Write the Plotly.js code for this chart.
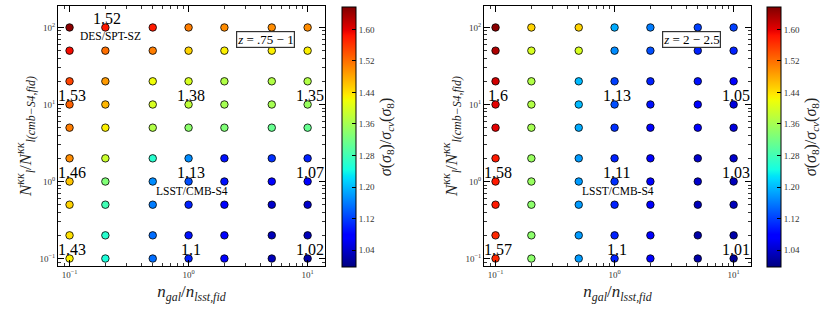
<!DOCTYPE html>
<html>
<head>
<meta charset="utf-8">
<script src="https://cdn.plot.ly/plotly-3.0.1.min.js"></script>
<style>html,body{margin:0;padding:0;background:#fff;}#chart{width:830px;height:312px;}</style>
</head>
<body>
<div id="chart"></div>
<script>
// ---------------- data ----------------
var nGal = [0.1, 0.2, 0.5, 1, 2, 5, 10];            // n_gal / n_lsst,fid
var nKK  = [100, 50, 20, 10, 5, 2, 1, 0.5, 0.2, 0.1]; // N_l^kk / N_l(cmb-S4,fid)^kk

// sigma(sigma8)/sigma_cv(sigma8), rows follow nKK, columns follow nGal
var ratioZ075 = [
  [1.65, 1.58, 1.58, 1.51, 1.50, 1.50, 1.50],
  [1.59, 1.52, 1.51, 1.45, 1.43, 1.43, 1.43],
  [1.55, 1.49, 1.42, 1.40, 1.37, 1.37, 1.37],
  [1.53, 1.47, 1.40, 1.38, 1.36, 1.36, 1.35],
  [1.51, 1.43, 1.37, 1.34, 1.33, 1.31, 1.31],
  [1.50, 1.39, 1.26, 1.17, 1.09, 1.11, 1.10],
  [1.46, 1.33, 1.17, 1.13, 1.09, 1.08, 1.07],
  [1.45, 1.28, 1.16, 1.10, 1.07, 1.04, 1.04],
  [1.44, 1.26, 1.15, 1.09, 1.07, 1.03, 1.03],
  [1.43, 1.25, 1.15, 1.10, 1.07, 1.03, 1.02]
];
var ratioZ2 = [
  [1.65, 1.45, 1.45, 1.19, 1.16, 1.12, 1.12],
  [1.63, 1.40, 1.40, 1.17, 1.13, 1.10, 1.10],
  [1.61, 1.37, 1.20, 1.12, 1.10, 1.09, 1.08],
  [1.60, 1.37, 1.20, 1.13, 1.09, 1.08, 1.05],
  [1.60, 1.36, 1.19, 1.11, 1.08, 1.07, 1.05],
  [1.58, 1.35, 1.18, 1.10, 1.07, 1.04, 1.04],
  [1.58, 1.35, 1.18, 1.11, 1.07, 1.04, 1.03],
  [1.58, 1.34, 1.18, 1.10, 1.07, 1.03, 1.03],
  [1.57, 1.34, 1.18, 1.10, 1.07, 1.02, 1.02],
  [1.57, 1.34, 1.18, 1.10, 1.07, 1.02, 1.01]
];

// value labels
var labelX = [0.2, 0.1, 1, 10, 0.1, 1, 10, 0.1, 1, 10];
var labelY = [100, 10, 10, 10, 1, 1, 1, 0.1, 0.1, 0.1];
var labelTextZ075 = ['1.52', '1.53', '1.38', '1.35', '1.46', '1.13', '1.07', '1.43', '1.1', '1.02'];
var labelTextZ2   = ['',     '1.6',  '1.13', '1.05', '1.58', '1.11', '1.03', '1.57', '1.1', '1.01'];

var panelTitles = ['<i>z</i> = .75 − 1', '<i>z</i> = 2 − 2.5'];
var colorMin = 0.997, colorMax = 1.657;
var cbTicks = [1.04, 1.12, 1.20, 1.28, 1.36, 1.44, 1.52, 1.60];
var tickVals = [0.1, 1, 10, 100];
var tickText = ['10<sup>−1</sup>', '10<sup>0</sup>', '10<sup>1</sup>', '10<sup>2</sup>'];

// ---------------- matplotlib "jet" colorscale ----------------
function interp(pts, t) {
  for (var i = 0; i < pts.length - 1; i++) {
    if (t >= pts[i][0] && t <= pts[i + 1][0]) {
      var f = (t - pts[i][0]) / (pts[i + 1][0] - pts[i][0]);
      return pts[i][1] + f * (pts[i + 1][1] - pts[i][1]);
    }
  }
  return pts[pts.length - 1][1];
}
var jr = [[0,0],[0.35,0],[0.66,1],[0.89,1],[1,0.5]];
var jg = [[0,0],[0.125,0],[0.375,1],[0.64,1],[0.91,0],[1,0]];
var jb = [[0,0.5],[0.11,1],[0.34,1],[0.65,0],[1,0]];
var stops = [0,0.11,0.125,0.34,0.35,0.375,0.64,0.65,0.66,0.89,0.91,1];
var jet = stops.map(function (t) {
  return [t, 'rgb(' + Math.round(255*interp(jr,t)) + ',' + Math.round(255*interp(jg,t)) + ',' + Math.round(255*interp(jb,t)) + ')'];
});

// ---------------- traces ----------------
function flatten(mat) {
  var xs = [], ys = [], cs = [];
  for (var r = 0; r < nKK.length; r++) for (var c = 0; c < nGal.length; c++) {
    xs.push(nGal[c]); ys.push(nKK[r]); cs.push(mat[r][c]);
  }
  return {x: xs, y: ys, c: cs};
}
var serif = 'Liberation Serif, DejaVu Serif, serif';
var cbTitle = '<i>σ</i>(<i>σ</i><sub>8</sub>)/<i>σ</i><sub><i>cv</i></sub>(<i>σ</i><sub>8</sub>)';

function makeTrace(mat, xa, ya, cbx) {
  var f = flatten(mat);
  return {
    type: 'scatter', mode: 'markers', x: f.x, y: f.y, xaxis: xa, yaxis: ya,
    hoverinfo: 'none', showlegend: false,
    marker: {
      size: 7.5, color: f.c, colorscale: jet, cmin: colorMin, cmax: colorMax,
      line: {color: '#000', width: 0.8},
      showscale: true,
      colorbar: {
        x: cbx, xanchor: 'left', xref: 'paper', y: 0.5609, yanchor: 'middle',
        len: 0.8333, lenmode: 'fraction', thickness: 14, thicknessmode: 'pixels',
        xpad: 0, ypad: 0, outlinewidth: 1, outlinecolor: '#000',
        tickmode: 'array', tickvals: cbTicks, ticktext: cbTicks.map(function(v){return v.toFixed(2);}),
        ticks: 'inside', ticklen: 4, tickcolor: '#000', tickwidth: 1,
        tickfont: {family: serif, size: 9, color: '#333'},
        title: {text: cbTitle, side: 'right', font: {family: serif, size: 16, color: '#222'}}
      }
    }
  };
}

var data = [
  makeTrace(ratioZ075, 'x', 'y', 342/830),
  makeTrace(ratioZ2, 'x2', 'y2', 767/830)
];

// ---------------- axes ----------------
function minorVals(lo, hi) {
  var v = [];
  for (var e = -2; e <= 3; e++) for (var m = 2; m <= 9; m++) {
    var val = m * Math.pow(10, e);
    if (val >= lo && val <= hi) v.push(val);
  }
  return v;
}
function axis(dom, rng, anchor, minr, title, tfsize, standoff) {
  return {
    type: 'log', domain: dom, range: rng, anchor: anchor,
    showgrid: false, zeroline: false, showline: true, linecolor: '#000', linewidth: 1, mirror: 'allticks',
    ticks: 'inside', ticklen: 6, tickwidth: 1, tickcolor: '#000',
    tickmode: 'array', tickvals: tickVals, ticktext: tickText,
    tickfont: {family: serif, size: 9, color: '#333'},
    minor: {tickmode: 'array', tickvals: minr, ticks: 'inside', ticklen: 3, tickwidth: 0.8, tickcolor: '#000', showgrid: false},
    title: {text: title, font: {family: serif, size: tfsize, color: '#222'}, standoff: standoff}
  };
}
var xr = [Math.log10(0.08), Math.log10(14)];
var yr = [Math.log10(0.08), Math.log10(190)];
var xTitle = '<i>n</i><sub><i>gal</i></sub>/<i>n</i><sub><i>lsst,fid</i></sub>';
var yTitle = '<i>N</i><sup><i>κκ</i></sup><sub><i>l</i></sub>/<i>N</i><sup><i>κκ</i></sup><sub><i>l(cmb−S4,fid)</i></sub>';
var yDom = [1 - 266/312, 1 - 6/312];

var layout = {
  width: 830, height: 312, margin: {l: 0, r: 0, t: 0, b: 0},
  paper_bgcolor: '#fff', plot_bgcolor: '#fff',
  xaxis:  axis([58/830, 325/830], xr, 'y',  minorVals(0.08, 14), xTitle, 17, 6),
  yaxis:  axis(yDom, yr, 'x',  minorVals(0.08, 190), yTitle, 17, 3),
  xaxis2: axis([484/830, 751/830], xr, 'y2', minorVals(0.08, 14), xTitle, 17, 6),
  yaxis2: axis(yDom, yr, 'x2', minorVals(0.08, 190), yTitle, 17, 3),
  annotations: []
};

var panels = [['x', 'y', labelTextZ075, panelTitles[0]], ['x2', 'y2', labelTextZ2, panelTitles[1]]];
panels.forEach(function (p) {
  for (var i = 0; i < labelX.length; i++) {
    if (!p[2][i]) continue;
    layout.annotations.push({
      xref: p[0], yref: p[1], x: Math.log10(labelX[i]), y: Math.log10(labelY[i]),
      text: p[2][i], showarrow: false, xshift: 2, yshift: 9,
      font: {family: serif, size: 16, color: '#000'}
    });
  }
  layout.annotations.push({
    xref: p[0], yref: p[1], x: Math.log10(1.07), y: Math.log10(0.755),
    text: 'LSST/CMB-S4', showarrow: false, font: {family: serif, size: 11.5, color: '#000'}
  });
  layout.annotations.push({
    xref: p[0], yref: p[1], x: Math.log10(4.42), y: Math.log10(69.5),
    text: p[3], showarrow: false, bordercolor: '#333', borderwidth: 1.2, borderpad: 0, bgcolor: '#fff',
    font: {family: serif, size: 13, color: '#000'}
  });
});
layout.annotations.push({
  xref: 'x', yref: 'y', x: Math.log10(0.221), y: Math.log10(78.3),
  text: 'DES/SPT-SZ', showarrow: false, font: {family: serif, size: 11.5, color: '#000'}
});

Plotly.newPlot('chart', data, layout, {staticPlot: true, displayModeBar: false});
</script>
</body>
</html>
